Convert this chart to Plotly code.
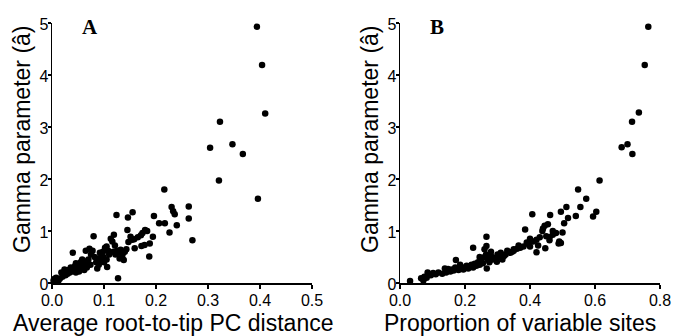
import plotly.graph_objects as go

# Panel A: average root-to-tip PC distance vs gamma parameter
a_x = [0.394, 0.404, 0.410, 0.323, 0.304, 0.347, 0.367, 0.321, 0.396,
       0.216, 0.263, 0.263, 0.230, 0.233, 0.236, 0.270, 0.240, 0.226, 0.206, 0.217,
       0.196, 0.194, 0.188, 0.187, 0.179, 0.174, 0.171, 0.178, 0.172, 0.183,
       0.155, 0.146, 0.145, 0.159, 0.151, 0.154, 0.158, 0.147, 0.165, 0.143,
       0.124, 0.127, 0.119, 0.113, 0.116, 0.121, 0.125, 0.128, 0.132, 0.135, 0.138, 0.130, 0.118, 0.122, 0.140, 0.136,
       0.105, 0.108, 0.110, 0.102, 0.098, 0.105, 0.106, 0.100, 0.095, 0.092, 0.088, 0.085, 0.090,
       0.080, 0.078, 0.075, 0.072, 0.070, 0.068, 0.065, 0.062, 0.060, 0.058, 0.055, 0.052, 0.050, 0.048, 0.046, 0.044, 0.042,
       0.040, 0.038, 0.036, 0.034, 0.032, 0.030, 0.028, 0.026, 0.024, 0.022, 0.020, 0.018, 0.015, 0.010, 0.005, 0.003, 0.012, 0.008,
       0.058, 0.062, 0.067, 0.074, 0.082, 0.087, 0.094, 0.099, 0.046, 0.052]
a_y = [4.93, 4.19, 3.26, 3.10, 2.60, 2.67, 2.48, 1.97, 1.62,
       1.80, 1.47, 1.24, 1.46, 1.38, 1.32, 0.82, 1.11, 0.97, 1.15, 1.15,
       1.29, 0.89, 0.76, 0.51, 1.02, 0.96, 0.92, 0.73, 0.71, 1.00,
       1.36, 1.26, 1.02, 0.67, 0.89, 0.83, 0.84, 0.79, 0.88, 0.65,
       1.31, 0.09, 0.93, 0.85, 0.80, 0.72, 0.62, 0.58, 0.64, 0.50, 0.44, 0.47, 0.60, 0.55, 0.60, 0.56,
       0.70, 0.62, 0.55, 0.68, 0.60, 0.45, 0.31, 0.40, 0.52, 0.58, 0.47, 0.40, 0.35,
       0.90, 0.62, 0.55, 0.66, 0.45, 0.38, 0.62, 0.42, 0.33, 0.28, 0.40, 0.35, 0.30, 0.25, 0.38, 0.32, 0.28,
       0.58, 0.22, 0.30, 0.20, 0.25, 0.18, 0.22, 0.15, 0.26, 0.18, 0.12, 0.20, 0.08, 0.07, 0.08, 0.05, 0.04, 0.10,
       0.45, 0.25, 0.30, 0.35, 0.50, 0.28, 0.42, 0.50, 0.20, 0.22]

# Panel B: proportion of variable sites vs gamma parameter
b_x = [0.764, 0.753, 0.735, 0.714, 0.700, 0.682, 0.715, 0.614, 0.548, 0.573, 0.555, 0.512, 0.495, 0.604, 0.594,
       0.541, 0.517, 0.505, 0.407, 0.462, 0.385, 0.266, 0.225, 0.266, 0.420, 0.447,
       0.440, 0.445, 0.455, 0.438, 0.480, 0.470, 0.490, 0.495, 0.488, 0.500, 0.460, 0.450, 0.430, 0.420, 0.410,
       0.400, 0.395, 0.390, 0.400, 0.425, 0.460, 0.470,
       0.370, 0.360, 0.350, 0.345, 0.340, 0.330, 0.325, 0.320, 0.310, 0.305, 0.298, 0.300, 0.290, 0.285, 0.280,
       0.275, 0.270, 0.267, 0.265, 0.260, 0.255, 0.250, 0.245, 0.240, 0.235, 0.230, 0.225, 0.220, 0.215, 0.210,
       0.205, 0.200, 0.195, 0.190, 0.185, 0.180, 0.175, 0.172, 0.170, 0.165, 0.160, 0.155, 0.148, 0.142, 0.138,
       0.130, 0.118, 0.110, 0.102, 0.095, 0.092, 0.085, 0.082, 0.075, 0.072, 0.065, 0.031,
       0.350, 0.380, 0.365, 0.315, 0.280, 0.260, 0.245]
b_y = [4.93, 4.19, 3.28, 3.10, 2.67, 2.61, 2.48, 1.97, 1.80, 1.62, 1.46, 1.46, 1.37, 1.37, 1.28,
       1.29, 1.25, 1.15, 1.32, 1.31, 1.03, 0.89, 0.68, 0.71, 0.59, 0.67,
       1.05, 1.10, 1.13, 1.00, 0.96, 0.93, 0.80, 0.77, 0.76, 0.97, 0.88, 0.90, 0.88, 0.83, 0.80,
       0.85, 0.75, 0.78, 0.70, 0.72, 0.82, 1.00,
       0.68, 0.66, 0.65, 0.60, 0.58, 0.62, 0.55, 0.52, 0.58, 0.50, 0.41, 0.55, 0.48, 0.45, 0.52,
       0.40, 0.45, 0.28, 0.55, 0.50, 0.38, 0.42, 0.35, 0.40, 0.33, 0.37, 0.30, 0.35, 0.32, 0.28,
       0.33, 0.30, 0.26, 0.30, 0.35, 0.25, 0.28, 0.44, 0.30, 0.24, 0.26, 0.22, 0.27, 0.20, 0.28,
       0.18, 0.20, 0.17, 0.19, 0.15, 0.16, 0.20, 0.10, 0.12, 0.05, 0.09, 0.04,
       0.62, 0.70, 0.72, 0.45, 0.60, 0.65, 0.50]

a_ticks = [0.0, 0.1, 0.2, 0.3, 0.4, 0.5]
b_ticks = [0.0, 0.2, 0.4, 0.6, 0.8]
y_ticks = [0, 1, 2, 3, 4, 5]

W, H = 673, 336
FONT = "Liberation Sans, Arial, sans-serif"
SERIF = "Liberation Serif, Times New Roman, serif"

fig = go.Figure()
marker = dict(color="black", size=6.5, line=dict(width=0))
fig.add_trace(go.Scatter(x=a_x, y=a_y, mode="markers", marker=marker, xaxis="x", yaxis="y", cliponaxis=False))
fig.add_trace(go.Scatter(x=b_x, y=b_y, mode="markers", marker=marker, xaxis="x2", yaxis="y2", cliponaxis=False))

ydom = [(H - 283) / H, (H - 23) / H]
common_axis = dict(showline=True, linecolor="black", linewidth=1.5, ticks="outside",
                   tickwidth=1.5, tickcolor="black", showgrid=False, zeroline=False, automargin=False,
                   tickfont=dict(family=FONT, size=16, color="black"))
x_axis = dict(ticklen=4, ticklabelstandoff=-2, **common_axis)
y_axis = dict(ticklen=3, ticklabelstandoff=-4, ticklabelshift=1, **common_axis)

fig.update_layout(
    width=W, height=H, margin=dict(l=0, r=0, t=0, b=0, autoexpand=False),
    paper_bgcolor="white", plot_bgcolor="white", showlegend=False,
    xaxis=dict(domain=[52 / W, 312 / W], range=[0, 0.5], tickvals=a_ticks,
               ticktext=[f"{v:.1f}" for v in a_ticks], anchor="y", **x_axis),
    yaxis=dict(domain=ydom, range=[0, 5], tickvals=y_ticks, anchor="x", **y_axis),
    xaxis2=dict(domain=[400 / W, 660 / W], range=[0, 0.8], tickvals=b_ticks,
                ticktext=[f"{v:.1f}" for v in b_ticks], anchor="y2", **x_axis),
    yaxis2=dict(domain=ydom, range=[0, 5], tickvals=y_ticks, anchor="x2", **y_axis),
)

def label(text, cx, cy, size, family=FONT, angle=0):
    return dict(text=text, x=cx / W, y=(H - cy) / H, xref="paper", yref="paper",
                xanchor="center", yanchor="middle", showarrow=False, textangle=angle,
                font=dict(family=family, size=size, color="black"))

ann = [
    label("Average root-to-tip PC distance", 173, 323, 23),
    label("Proportion of variable sites", 520, 323, 23),
    label("Gamma parameter (â)", 22, 139, 23, angle=-90),
    label("Gamma parameter (â)", 370, 139, 23, angle=-90),
    label("<b>A</b>", 90, 27, 21, family=SERIF),
    label("<b>B</b>", 333 + 313 / 3, 27, 21, family=SERIF),
]
fig.update_layout(annotations=ann)

fig.write_html("out.html", config={"displayModeBar": False, "staticPlot": True},
               post_script="document.body.style.margin='0';document.body.style.overflow='hidden';")
